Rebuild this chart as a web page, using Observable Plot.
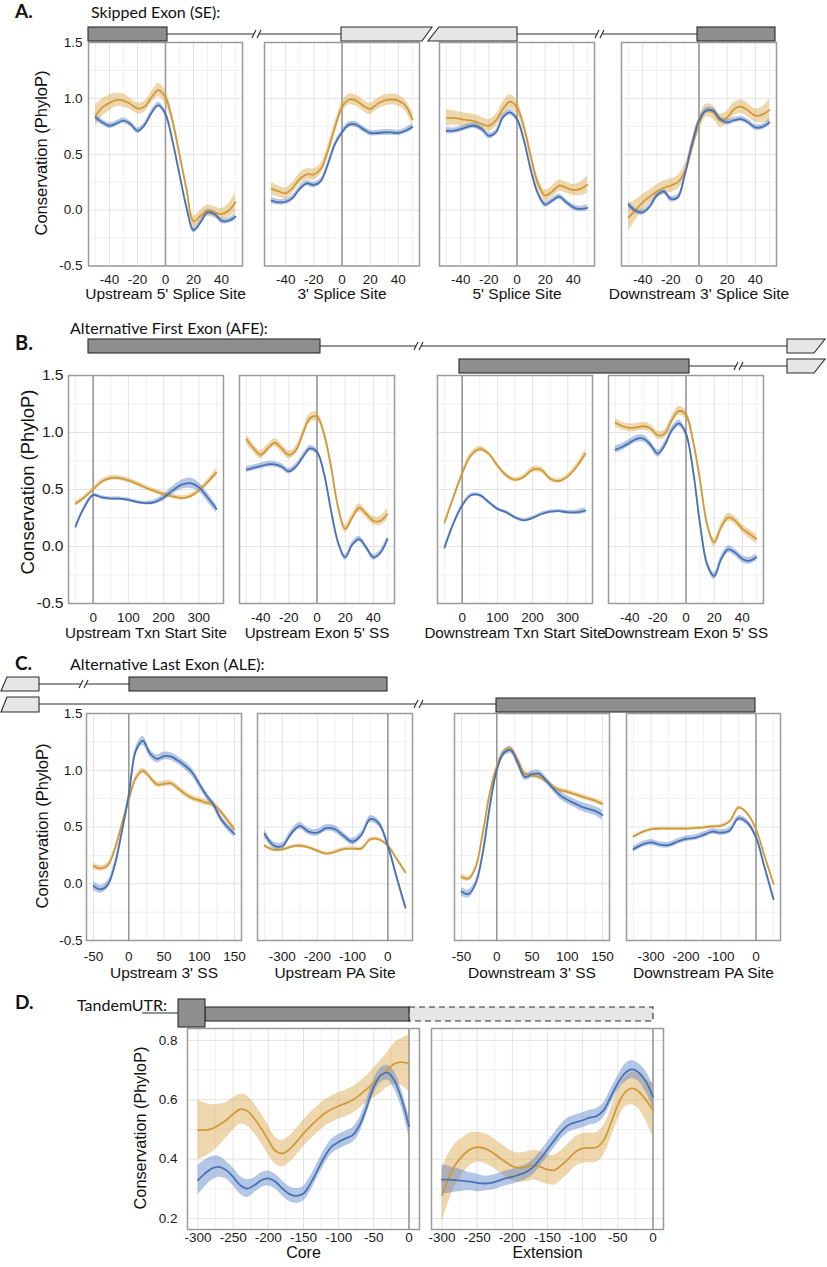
<!DOCTYPE html>
<html><head><meta charset="utf-8">
<script src="https://cdn.jsdelivr.net/npm/d3@7"></script>
<script src="https://cdn.jsdelivr.net/npm/@observablehq/plot@0.6"></script>
<style>
body{margin:0;background:#fff;}
#root{position:relative;width:827px;height:1267px;overflow:hidden;background:#fff;}
</style></head><body><div id="root"></div>
<script>
// ---------- positions (x) ----------
const xSS  = [-50,-45,-40,-35,-30,-25,-20,-15,-10,-5,0,5,10,15,20,25,30,35,40,45,50];
const xTSS = [-50,-25,0,25,50,75,100,125,150,175,200,225,250,275,300,325,350];
const x3SS = [-50,-40,-30,-20,-10,0,10,20,30,40,50,60,70,80,90,100,110,120,130,140,150];
const xPA  = [-350,-325,-300,-275,-250,-225,-200,-175,-150,-125,-100,-75,-50,-25,0,25,50];
const xUTR = [-300,-290,-280,-270,-260,-250,-240,-230,-220,-210,-200,-190,-180,-170,-160,-150,-140,-130,-120,-110,-100,-90,-80,-70,-60,-50,-40,-30,-20,-10,0];

// ---------- tick values ----------
const ticksSS = [-40,-20,0,20,40], minorSS = [-50,-30,-10,10,30,50];
const ticksTSS = [0,100,200,300], minorTSS = [-50,50,150,250,350];
const ticks3SS = [-50,0,50,100,150], minor3SS = [-25,25,75,125];
const ticksPA = [-300,-200,-100,0], minorPA = [-350,-250,-150,-50,50];
const ticksUTR = [-300,-250,-200,-150,-100,-50,0], minorUTR = [-275,-225,-175,-125,-75,-25];
const ticksY = [-0.5,0,0.5,1.0,1.5], minorY = [-0.25,0.25,0.75,1.25];
const ticksYD = [0.2,0.4,0.6,0.8], minorYD = [0.3,0.5,0.7];

// ---------- A. Skipped exon ----------
const A1_o  = [0.845,0.92,0.96,0.985,0.98,0.95,0.91,0.925,1.01,1.075,1.01,0.80,0.50,0.19,-0.10,-0.05,-0.005,-0.02,-0.035,-0.005,0.07];
const A1_oSE= [0.10,0.08,0.07,0.06,0.06,0.05,0.05,0.05,0.05,0.06,0.06,0.05,0.04,0.04,0.05,0.05,0.05,0.05,0.05,0.06,0.09];
const A1_b  = [0.83,0.785,0.755,0.775,0.80,0.77,0.71,0.76,0.87,0.94,0.86,0.62,0.32,0.025,-0.18,-0.11,-0.02,-0.035,-0.095,-0.095,-0.06];
const A1_bSE= [0.03,0.025,0.025,0.025,0.025,0.025,0.025,0.025,0.025,0.025,0.025,0.025,0.025,0.025,0.025,0.025,0.025,0.025,0.025,0.025,0.03];

const A2_o  = [0.19,0.167,0.15,0.20,0.28,0.32,0.32,0.37,0.53,0.74,0.92,0.99,0.98,0.935,0.905,0.95,0.98,0.99,0.98,0.935,0.815];
const A2_oSE= [0.06,0.05,0.05,0.05,0.05,0.05,0.05,0.05,0.05,0.05,0.05,0.05,0.05,0.05,0.05,0.05,0.05,0.05,0.05,0.05,0.06];
const A2_b  = [0.085,0.07,0.075,0.11,0.19,0.24,0.225,0.26,0.41,0.59,0.695,0.765,0.765,0.725,0.69,0.69,0.695,0.695,0.69,0.71,0.745];
const A2_bSE= [0.03,0.025,0.025,0.025,0.025,0.025,0.025,0.025,0.025,0.025,0.025,0.025,0.025,0.025,0.025,0.025,0.025,0.025,0.025,0.025,0.03];

const A3_o  = [0.825,0.825,0.815,0.805,0.795,0.77,0.755,0.80,0.905,0.97,0.92,0.74,0.47,0.235,0.13,0.167,0.22,0.20,0.18,0.19,0.227];
const A3_oSE= [0.07,0.065,0.06,0.06,0.06,0.06,0.055,0.055,0.06,0.065,0.06,0.05,0.05,0.05,0.05,0.05,0.05,0.05,0.05,0.06,0.08];
const A3_b  = [0.71,0.71,0.725,0.745,0.755,0.725,0.665,0.695,0.83,0.875,0.815,0.62,0.35,0.145,0.05,0.085,0.12,0.07,0.025,0.01,0.02];
const A3_bSE= [0.03,0.025,0.025,0.025,0.025,0.025,0.025,0.025,0.025,0.025,0.025,0.025,0.025,0.025,0.025,0.025,0.025,0.025,0.025,0.025,0.03];

const A4_o  = [-0.065,0.0,0.07,0.12,0.167,0.20,0.22,0.25,0.35,0.56,0.77,0.89,0.875,0.80,0.83,0.905,0.925,0.89,0.845,0.855,0.895];
const A4_oSE= [0.12,0.09,0.07,0.06,0.06,0.06,0.06,0.06,0.06,0.06,0.06,0.06,0.06,0.06,0.06,0.06,0.06,0.06,0.06,0.07,0.10];
const A4_b  = [0.05,-0.005,-0.02,0.03,0.13,0.167,0.10,0.115,0.32,0.59,0.80,0.89,0.89,0.815,0.785,0.805,0.815,0.785,0.74,0.745,0.785];
const A4_bSE= [0.03,0.025,0.025,0.025,0.025,0.025,0.025,0.025,0.025,0.025,0.025,0.025,0.025,0.025,0.025,0.025,0.025,0.025,0.025,0.025,0.03];

// ---------- B. Alternative first exon ----------
const B1_o  = [0.375,0.43,0.50,0.57,0.60,0.60,0.58,0.55,0.515,0.485,0.46,0.44,0.425,0.44,0.49,0.565,0.65];
const B1_oSE= [0.02,0.02,0.02,0.02,0.02,0.02,0.02,0.02,0.02,0.02,0.02,0.02,0.02,0.02,0.02,0.025,0.035];
const B1_b  = [0.175,0.345,0.45,0.43,0.42,0.42,0.41,0.39,0.38,0.39,0.43,0.49,0.54,0.555,0.52,0.43,0.33];
const B1_bSE= [0.015,0.015,0.015,0.015,0.015,0.015,0.015,0.015,0.015,0.02,0.03,0.035,0.04,0.045,0.04,0.04,0.035];

const B2_o  = [0.94,0.86,0.805,0.86,0.91,0.86,0.805,0.845,0.99,1.125,1.14,0.99,0.70,0.345,0.155,0.255,0.34,0.285,0.225,0.225,0.285];
const B2_oSE= [0.04,0.035,0.035,0.035,0.035,0.035,0.035,0.035,0.035,0.04,0.04,0.035,0.03,0.03,0.035,0.035,0.035,0.035,0.035,0.04,0.05];
const B2_b  = [0.675,0.69,0.705,0.72,0.72,0.70,0.66,0.70,0.785,0.86,0.83,0.64,0.315,0.035,-0.095,0.015,0.065,-0.01,-0.095,-0.055,0.065];
const B2_bSE= [0.025,0.025,0.025,0.025,0.025,0.025,0.025,0.025,0.025,0.025,0.025,0.025,0.025,0.025,0.025,0.025,0.025,0.025,0.025,0.025,0.03];

const B3_o  = [0.21,0.43,0.64,0.80,0.855,0.815,0.71,0.625,0.585,0.61,0.675,0.67,0.595,0.575,0.615,0.70,0.815];
const B3_oSE= [0.02,0.02,0.02,0.025,0.025,0.02,0.02,0.02,0.02,0.02,0.025,0.025,0.02,0.02,0.02,0.025,0.035];
const B3_b  = [-0.01,0.20,0.36,0.45,0.45,0.39,0.33,0.30,0.255,0.23,0.25,0.285,0.305,0.31,0.30,0.30,0.315];
const B3_bSE= [0.015,0.015,0.015,0.015,0.015,0.015,0.015,0.015,0.015,0.015,0.015,0.015,0.015,0.015,0.015,0.02,0.025];

const B4_o  = [1.085,1.055,1.04,1.045,1.055,1.035,0.975,0.99,1.11,1.19,1.155,0.93,0.58,0.195,0.035,0.17,0.255,0.225,0.155,0.11,0.065];
const B4_oSE= [0.04,0.035,0.035,0.035,0.035,0.035,0.035,0.035,0.035,0.04,0.04,0.035,0.03,0.03,0.035,0.035,0.035,0.035,0.035,0.04,0.045];
const B4_b  = [0.85,0.875,0.91,0.945,0.945,0.89,0.815,0.89,1.02,1.08,0.99,0.67,0.195,-0.155,-0.26,-0.11,-0.025,-0.055,-0.11,-0.125,-0.095];
const B4_bSE= [0.03,0.03,0.03,0.03,0.03,0.03,0.03,0.03,0.03,0.03,0.03,0.03,0.03,0.03,0.03,0.03,0.03,0.03,0.03,0.03,0.03];

// ---------- C. Alternative last exon ----------
const C1_o  = [0.155,0.135,0.16,0.30,0.52,0.74,0.93,0.995,0.94,0.875,0.88,0.885,0.84,0.79,0.755,0.735,0.715,0.70,0.64,0.56,0.48];
const C1_oSE= [0.03,0.025,0.025,0.025,0.025,0.025,0.025,0.025,0.025,0.025,0.025,0.025,0.025,0.025,0.025,0.025,0.025,0.025,0.025,0.025,0.03];
const C1_b  = [-0.02,-0.05,-0.01,0.16,0.45,0.78,1.17,1.26,1.15,1.10,1.125,1.12,1.085,1.04,0.98,0.88,0.78,0.70,0.58,0.50,0.44];
const C1_bSE= [0.04,0.035,0.035,0.035,0.035,0.035,0.035,0.04,0.035,0.035,0.035,0.035,0.035,0.035,0.035,0.035,0.03,0.03,0.03,0.03,0.03];

const C2_o  = [0.335,0.30,0.30,0.325,0.335,0.32,0.29,0.265,0.28,0.305,0.31,0.31,0.39,0.39,0.336,0.22,0.10];
const C2_oSE= [0.015,0.015,0.015,0.015,0.015,0.015,0.015,0.015,0.015,0.015,0.015,0.015,0.015,0.015,0.015,0.015,0.015];
const C2_b  = [0.44,0.34,0.33,0.44,0.51,0.46,0.45,0.49,0.48,0.42,0.37,0.43,0.57,0.53,0.336,0.06,-0.21];
const C2_bSE= [0.035,0.03,0.03,0.03,0.03,0.03,0.03,0.03,0.03,0.03,0.03,0.03,0.03,0.03,0.03,0.03,0.03];

const C3_o  = [0.06,0.045,0.145,0.44,0.795,1.03,1.16,1.19,1.09,0.97,0.955,0.94,0.905,0.855,0.825,0.81,0.79,0.77,0.75,0.73,0.705];
const C3_oSE= [0.025,0.02,0.02,0.02,0.02,0.02,0.02,0.02,0.02,0.02,0.02,0.02,0.02,0.02,0.02,0.02,0.02,0.02,0.02,0.02,0.025];
const C3_b  = [-0.07,-0.09,0.0,0.265,0.675,1.0,1.15,1.175,1.06,0.94,0.965,0.97,0.91,0.84,0.78,0.74,0.71,0.68,0.66,0.64,0.605];
const C3_bSE= [0.04,0.035,0.03,0.03,0.03,0.03,0.03,0.03,0.03,0.03,0.03,0.03,0.03,0.03,0.035,0.035,0.035,0.04,0.04,0.04,0.045];

const C4_o  = [0.415,0.455,0.48,0.485,0.485,0.485,0.485,0.49,0.495,0.505,0.51,0.55,0.67,0.62,0.48,0.24,0.0];
const C4_oSE= [0.012,0.012,0.012,0.012,0.012,0.012,0.012,0.012,0.012,0.012,0.012,0.012,0.015,0.015,0.012,0.012,0.012];
const C4_b  = [0.305,0.345,0.365,0.345,0.34,0.37,0.395,0.405,0.43,0.46,0.45,0.47,0.575,0.54,0.41,0.14,-0.135];
const C4_bSE= [0.025,0.025,0.025,0.025,0.025,0.025,0.025,0.025,0.025,0.025,0.025,0.025,0.025,0.025,0.025,0.025,0.025];

// ---------- D. Tandem UTR ----------
const D1_o  = [0.498,0.498,0.503,0.515,0.531,0.552,0.568,0.562,0.537,0.503,0.464,0.428,0.419,0.433,0.458,0.487,0.511,0.534,0.554,0.568,0.579,0.588,0.599,0.616,0.636,0.657,0.678,0.702,0.722,0.727,0.722];
const D1_oSE= [0.10,0.09,0.08,0.07,0.06,0.055,0.05,0.05,0.05,0.05,0.05,0.045,0.045,0.045,0.045,0.045,0.045,0.045,0.045,0.045,0.045,0.045,0.045,0.045,0.045,0.05,0.055,0.06,0.07,0.08,0.095];
const D1_b  = [0.329,0.352,0.369,0.374,0.363,0.340,0.312,0.301,0.312,0.329,0.335,0.324,0.301,0.282,0.276,0.284,0.318,0.363,0.408,0.442,0.458,0.470,0.481,0.515,0.576,0.644,0.683,0.691,0.661,0.599,0.511];
const D1_bSE= [0.05,0.045,0.04,0.035,0.03,0.03,0.03,0.03,0.025,0.025,0.025,0.025,0.025,0.025,0.025,0.025,0.025,0.025,0.025,0.025,0.025,0.025,0.025,0.025,0.025,0.025,0.025,0.025,0.03,0.03,0.035];

const D2_o  = [0.279,0.340,0.385,0.413,0.433,0.440,0.436,0.425,0.408,0.391,0.376,0.371,0.374,0.380,0.374,0.365,0.363,0.380,0.402,0.425,0.436,0.438,0.440,0.464,0.520,0.582,0.624,0.638,0.627,0.599,0.565];
const D2_oSE= [0.09,0.08,0.07,0.06,0.055,0.05,0.05,0.05,0.05,0.05,0.05,0.05,0.05,0.05,0.05,0.05,0.05,0.05,0.05,0.05,0.05,0.05,0.05,0.05,0.05,0.05,0.05,0.055,0.06,0.07,0.09];
const D2_b  = [0.331,0.331,0.329,0.327,0.324,0.320,0.318,0.320,0.327,0.335,0.340,0.348,0.357,0.374,0.402,0.433,0.464,0.494,0.515,0.524,0.531,0.540,0.545,0.565,0.610,0.655,0.689,0.702,0.691,0.661,0.610];
const D2_bSE= [0.05,0.045,0.04,0.035,0.03,0.03,0.025,0.025,0.025,0.025,0.025,0.025,0.025,0.025,0.025,0.025,0.025,0.025,0.025,0.025,0.025,0.025,0.025,0.025,0.025,0.025,0.03,0.03,0.03,0.035,0.04];

// ---------- styling ----------
const ORANGE = "#d09a3a", BLUE = "#4a72b2";
const ORANGE_FILL = "#dca64a", BLUE_FILL = "#5b82c8";
const SANS = "'Liberation Sans', Arial, Helvetica, sans-serif";
const root = document.getElementById("root");

function addPanel(p) {
  const mL = 70, mR = 8, mT = 4, mB = 44;
  const W = p.right - p.left, H = p.bottom - p.top;
  const rows = p.x.map((v, i) => ({
    x: v, o: p.o[i], oLo: p.o[i] - p.oSE[i], oHi: p.o[i] + p.oSE[i],
    b: p.b[i], bLo: p.b[i] - p.bSE[i], bHi: p.b[i] + p.bSE[i]
  }));
  const curve = "catmull-rom";
  const svg = Plot.plot({
    width: W + mL + mR, height: H + mT + mB,
    marginLeft: mL, marginRight: mR, marginTop: mT, marginBottom: mB,
    x: {domain: p.xDomain, axis: null},
    y: {domain: p.yDomain, axis: null},
    style: {background: "transparent", fontFamily: SANS, color: "#1a1a1a", overflow: "visible"},
    marks: [
      Plot.gridX(p.xMinor, {stroke: "#f0f0f0", strokeOpacity: 1, strokeWidth: 1}),
      Plot.gridY(p.yMinor, {stroke: "#f0f0f0", strokeOpacity: 1, strokeWidth: 1}),
      Plot.gridX(p.xMajor, {stroke: "#e3e3e3", strokeOpacity: 1, strokeWidth: 1}),
      Plot.gridY(p.yMajor, {stroke: "#e3e3e3", strokeOpacity: 1, strokeWidth: 1}),
      Plot.ruleX([0], {stroke: "#999", strokeWidth: 1.6}),
      Plot.areaY(rows, {x: "x", y1: "oLo", y2: "oHi", fill: ORANGE_FILL, fillOpacity: 0.45, curve}),
      Plot.areaY(rows, {x: "x", y1: "bLo", y2: "bHi", fill: BLUE_FILL, fillOpacity: 0.45, curve}),
      Plot.line(rows, {x: "x", y: "o", stroke: ORANGE, strokeWidth: 1.8, curve}),
      Plot.line(rows, {x: "x", y: "b", stroke: BLUE, strokeWidth: 1.8, curve}),
      Plot.frame({stroke: "#9a9a9a", strokeWidth: 1.5}),
      Plot.axisX(p.xMajor, {tickSize: 0, tickPadding: p.tickPad, fontSize: 13.5, tickFormat: d => String(d), fill: "#1a1a1a", label: null}),
      p.showY ? Plot.axisY(p.yMajor, {tickSize: 0, tickPadding: p.yPad, fontSize: p.yFont, tickFormat: d => d.toFixed(1), fill: "#1a1a1a", label: null}) : null,
      Plot.text([p.title], {text: d => d, frameAnchor: "bottom", dy: p.titleDy, fontSize: p.titleFont, fill: "#111"})
    ]
  });
  svg.style.position = "absolute";
  svg.style.left = (p.left - mL) + "px";
  svg.style.top = (p.top - mT) + "px";
  root.appendChild(svg);
}

const dSS = [-55, 55], dTSS = [-70, 370], d3SS = [-60, 160], dPA = [-370, 70], dUTR = [-315, 15];
const yAC = [-0.5, 1.5], yD = [0.163, 0.84];

const rowA = {top: 41.5, bottom: 265, yDomain: yAC, yMajor: ticksY, yMinor: minorY, tickPad: 8, titleDy: 33, titleFont: 15.5, yPad: 6, yFont: 13.5};
const rowB = {top: 375, bottom: 603, yDomain: yAC, yMajor: ticksY, yMinor: minorY, tickPad: 9, titleDy: 34, titleFont: 15.2, yPad: 5, yFont: 15.5};
const rowC = {top: 713, bottom: 940, yDomain: yAC, yMajor: ticksY, yMinor: minorY, tickPad: 11, titleDy: 37, titleFont: 15.5, yPad: 4, yFont: 13.5};
const rowD = {top: 1028, bottom: 1229, yDomain: yD, yMajor: ticksYD, yMinor: minorYD, tickPad: 3, titleDy: 28.5, titleFont: 16, yPad: 10, yFont: 13.5};

const SS = {xDomain: dSS, xMajor: ticksSS, xMinor: minorSS, x: xSS};
const TSS = {xDomain: dTSS, xMajor: ticksTSS, xMinor: minorTSS, x: xTSS};
const S3 = {xDomain: d3SS, xMajor: ticks3SS, xMinor: minor3SS, x: x3SS};
const PA = {xDomain: dPA, xMajor: ticksPA, xMinor: minorPA, x: xPA};
const UTR = {xDomain: dUTR, xMajor: ticksUTR, xMinor: minorUTR, x: xUTR};

[
  {...rowA, ...SS, left: 88, right: 242, showY: true, title: "Upstream 5' Splice Site", o: A1_o, oSE: A1_oSE, b: A1_b, bSE: A1_bSE},
  {...rowA, ...SS, left: 264, right: 419, title: "3' Splice Site", o: A2_o, oSE: A2_oSE, b: A2_b, bSE: A2_bSE},
  {...rowA, ...SS, left: 439, right: 594, title: "5' Splice Site", o: A3_o, oSE: A3_oSE, b: A3_b, bSE: A3_bSE},
  {...rowA, ...SS, left: 621, right: 776, title: "Downstream 3' Splice Site", o: A4_o, oSE: A4_oSE, b: A4_b, bSE: A4_bSE},
  {...rowB, ...TSS, left: 68, right: 223, showY: true, title: "Upstream Txn Start Site", o: B1_o, oSE: B1_oSE, b: B1_b, bSE: B1_bSE},
  {...rowB, ...SS, left: 239, right: 394, title: "Upstream Exon 5' SS", o: B2_o, oSE: B2_oSE, b: B2_b, bSE: B2_bSE},
  {...rowB, ...TSS, left: 437, right: 592, title: "Downstream Txn Start Site", o: B3_o, oSE: B3_oSE, b: B3_b, bSE: B3_bSE},
  {...rowB, ...SS, left: 608, right: 763, title: "Downstream Exon 5' SS", o: B4_o, oSE: B4_oSE, b: B4_b, bSE: B4_bSE},
  {...rowC, ...S3, left: 86, right: 241, showY: true, title: "Upstream 3' SS", o: C1_o, oSE: C1_oSE, b: C1_b, bSE: C1_bSE},
  {...rowC, ...PA, left: 257, right: 412, title: "Upstream PA Site", o: C2_o, oSE: C2_oSE, b: C2_b, bSE: C2_bSE},
  {...rowC, ...S3, left: 454, right: 609, title: "Downstream 3' SS", o: C3_o, oSE: C3_oSE, b: C3_b, bSE: C3_bSE},
  {...rowC, ...PA, left: 626, right: 780, title: "Downstream PA Site", o: C4_o, oSE: C4_oSE, b: C4_b, bSE: C4_bSE},
  {...rowD, ...UTR, left: 187, right: 419, showY: true, title: "Core", o: D1_o, oSE: D1_oSE, b: D1_b, bSE: D1_bSE},
  {...rowD, ...UTR, left: 431, right: 663, title: "Extension", o: D2_o, oSE: D2_oSE, b: D2_b, bSE: D2_bSE}
].forEach(addPanel);

// ---------- overlay: headings, gene schematics, y titles ----------
const ov = d3.select(root).append("svg")
  .attr("width", 827).attr("height", 1267)
  .style("position", "absolute").style("left", "0px").style("top", "0px");

const HEAD = "Lato, 'Open Sans', sans-serif";
function label(txt, x, y, size, weight) {
  ov.append("text").attr("x", x).attr("y", y).attr("font-family", HEAD)
    .attr("font-size", size).attr("font-weight", weight || 400).attr("fill", "#111").text(txt);
}
label("A.", 15, 18, 19, 700);
label("Skipped Exon (SE):", 91, 18, 16);
label("B.", 15, 350, 20, 700);
label("Alternative First Exon (AFE):", 70, 334, 16);
label("C.", 15, 670, 19, 700);
label("Alternative Last Exon (ALE):", 70, 670, 16);
label("D.", 15, 1009, 19, 700);
label("TandemUTR:", 77, 1011, 16);

function ytitle(x, y, size) {
  ov.append("text").attr("transform", `translate(${x},${y}) rotate(-90)`)
    .attr("text-anchor", "middle").attr("dominant-baseline", "central")
    .attr("font-family", SANS).attr("font-size", size).attr("fill", "#111")
    .text("Conservation (PhyloP)");
}
ytitle(41, 153, 16.5);
ytitle(27, 482, 18.5);
ytitle(42, 826, 16.5);
ytitle(140, 1128, 16.3);

const DARK = "#8e8e8e", LIGHT = "#e6e6e6", EDGE = "#2b2b2b";
function rect(x0, y0, x1, y1, fill, dash) {
  ov.append("rect").attr("x", x0).attr("y", y0).attr("width", x1 - x0).attr("height", y1 - y0)
    .attr("fill", fill).attr("stroke", EDGE).attr("stroke-width", 1.1)
    .attr("stroke-dasharray", dash || null);
}
function poly(pts, fill) {
  ov.append("polygon").attr("points", pts.map(p => p.join(",")).join(" "))
    .attr("fill", fill).attr("stroke", EDGE).attr("stroke-width", 1.1);
}
function seg(x0, x1, y) {
  ov.append("line").attr("x1", x0).attr("x2", x1).attr("y1", y).attr("y2", y)
    .attr("stroke", EDGE).attr("stroke-width", 1.1);
}
function brk(bx, y) {
  for (const dx of [-4, 1]) {
    ov.append("line").attr("x1", bx + dx - 2).attr("y1", y + 4).attr("x2", bx + dx + 2).attr("y2", y - 4)
      .attr("stroke", EDGE).attr("stroke-width", 1.1);
  }
}
function intron(x0, x1, y, bx) {
  if (bx == null) { seg(x0, x1, y); return; }
  seg(x0, bx - 4, y); seg(bx + 1, x1, y); brk(bx, y);
}

// A
intron(167, 341, 34, 258);
intron(517, 697, 34, 601);
rect(88, 27, 167, 41, DARK);
poly([[341,27],[432,27],[422,41],[341,41]], LIGHT);
poly([[439,27],[517,27],[517,41],[428,41]], LIGHT);
rect(697, 27, 775, 41, DARK);
// B
intron(320, 787, 346, 420);
intron(689, 787, 366, 740);
rect(88, 339, 320, 353, DARK);
rect(459, 359, 689, 373, DARK);
poly([[787,339],[825,339],[814,353],[787,353]], LIGHT);
poly([[787,359],[825,359],[814,373],[787,373]], LIGHT);
// C
intron(39, 129, 684, 85);
intron(39, 496, 704, 420);
poly([[7,677],[39,677],[39,691],[1,691]], LIGHT);
poly([[7,697],[39,697],[39,712],[1,712]], LIGHT);
rect(129, 677, 387, 691, DARK);
rect(496, 698, 755, 712, DARK);
// D
seg(142, 178, 1013);
rect(409, 1007, 653, 1021, LIGHT, "6,4");
rect(205, 1007, 409, 1021, DARK);
rect(178, 999, 205, 1027, DARK);
</script>
</body></html>
